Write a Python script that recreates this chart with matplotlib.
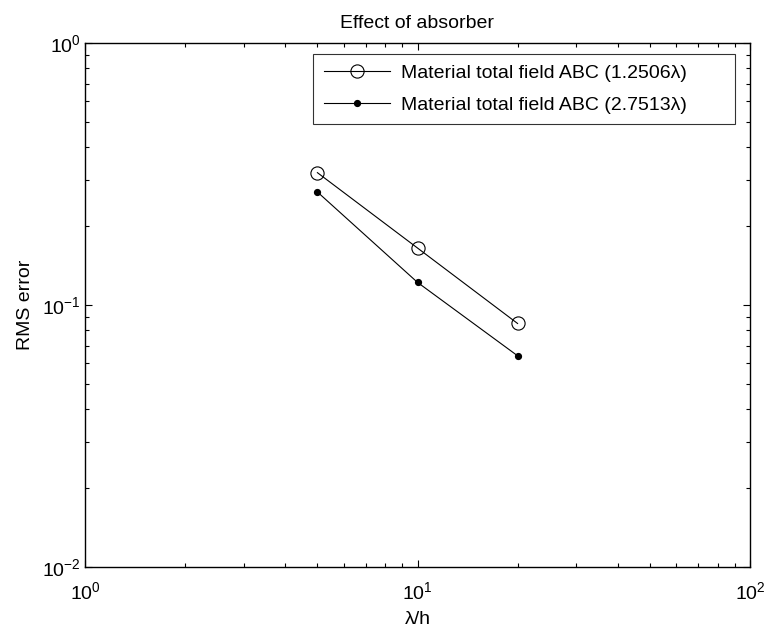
import matplotlib
matplotlib.use("Agg")
import matplotlib.pyplot as plt

plt.rcParams['font.family'] = ['Liberation Sans', 'DejaVu Sans']
plt.rcParams['mathtext.fontset'] = 'custom'
plt.rcParams['mathtext.rm'] = 'Liberation Sans'
plt.rcParams['mathtext.it'] = 'Liberation Sans'
plt.rcParams['mathtext.bf'] = 'Liberation Sans'

x = [5, 10, 20]
err_1 = [0.32, 0.165, 0.085]
err_2 = [0.27, 0.122, 0.064]
labels = ['Material total field ABC (1.2506λ)', 'Material total field ABC (2.7513λ)']

FS = 14

fig = plt.figure(figsize=(7.7, 6.32), dpi=100)
ax = fig.add_axes([85/770, 65/632, 665/770, 524/632])

ax.loglog(x, err_1, '-', color='black', lw=0.8, marker='o', markersize=9.5,
          markerfacecolor='none', markeredgecolor='black', markeredgewidth=0.8, label=labels[0])
ax.loglog(x, err_2, '-', color='black', lw=0.8, marker='o', markersize=4.2,
          markerfacecolor='black', markeredgecolor='black', label=labels[1])

ax.set_xlim(1, 100)
ax.set_ylim(0.01, 1)
ax.tick_params(which='both', direction='in', top=True, right=True, labelsize=FS, width=0.8)
ax.tick_params(which='major', length=5)
ax.tick_params(which='major', axis='x', pad=10)
ax.tick_params(which='major', axis='y', pad=3)
ax.tick_params(which='minor', length=3)
for s in ax.spines.values():
    s.set_linewidth(1.0)

ax.set_title('Effect of absorber', fontsize=FS, pad=11)
ax.set_xlabel('λ/h', fontsize=FS, labelpad=6)
ax.set_ylabel('RMS error', fontsize=FS, labelpad=6)

x0 = (313 - 85) / 665
y1 = (567 - 54) / 524
w = (735 - 313) / 665
leg = ax.legend(loc='upper left', bbox_to_anchor=(x0, y1 - 0.2, w, 0.2), mode='expand',
                fontsize=FS, frameon=True, fancybox=False, edgecolor='black',
                borderaxespad=0, handlelength=3.4, handletextpad=0.6,
                borderpad=0.55, labelspacing=0.7)
leg.get_frame().set_linewidth(0.8)

fig.savefig('out.png', dpi=100, facecolor='white')
